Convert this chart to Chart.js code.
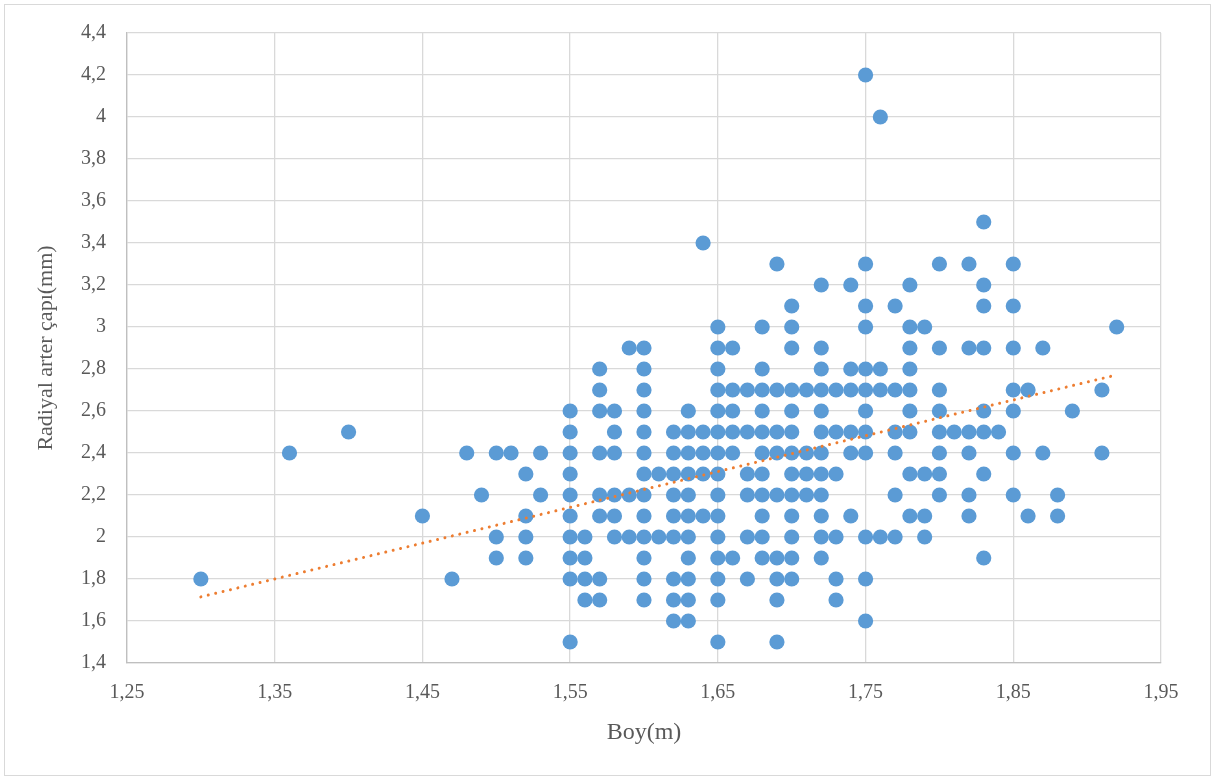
<!DOCTYPE html>
<html>
<head>
<meta charset="utf-8">
<title>Boy - Radiyal arter çapı</title>
<script src="https://cdn.jsdelivr.net/npm/chart.js@4.4.1/dist/chart.umd.min.js"></script>
<style>
  html, body { margin: 0; padding: 0; background: #ffffff; }
  #wrap { width: 1215px; height: 780px; position: relative; }
</style>
</head>
<body>
<div id="wrap"><canvas id="c" width="1215" height="780"></canvas></div>
<script>
// Heights (m) and, for each height, the measured radial artery diameters (mm)
const boy = [1.30, 1.36, 1.40, 1.45, 1.47, 1.48, 1.49, 1.50, 1.51, 1.52, 1.53,
  1.55, 1.56, 1.57, 1.58, 1.59, 1.60, 1.61, 1.62, 1.63, 1.64,
  1.65, 1.66, 1.67, 1.68, 1.69, 1.70, 1.71, 1.72, 1.73, 1.74,
  1.75, 1.76, 1.77, 1.78, 1.79, 1.80, 1.81, 1.82, 1.83, 1.84,
  1.85, 1.86, 1.87, 1.88, 1.89, 1.91, 1.92];
const cap = [
  [1.8], [2.4], [2.5], [2.1], [1.8], [2.4], [2.2], [2.4, 2.0, 1.9], [2.4], [2.3, 2.1, 2.0, 1.9], [2.4, 2.2],
  [2.6, 2.5, 2.4, 2.3, 2.2, 2.1, 2.0, 1.9, 1.8, 1.5],
  [2.0, 1.9, 1.8, 1.7],
  [2.8, 2.7, 2.6, 2.4, 2.2, 2.1, 1.8, 1.7],
  [2.6, 2.5, 2.4, 2.2, 2.1, 2.0],
  [2.9, 2.2, 2.0],
  [2.9, 2.8, 2.7, 2.6, 2.5, 2.4, 2.3, 2.2, 2.1, 2.0, 1.9, 1.8, 1.7],
  [2.3, 2.0],
  [2.5, 2.4, 2.3, 2.2, 2.1, 2.0, 1.8, 1.7, 1.6],
  [2.6, 2.5, 2.4, 2.3, 2.2, 2.1, 2.0, 1.9, 1.8, 1.7, 1.6],
  [3.4, 2.5, 2.4, 2.3, 2.1],
  [3.0, 2.9, 2.8, 2.7, 2.6, 2.5, 2.4, 2.3, 2.2, 2.1, 2.0, 1.9, 1.8, 1.7, 1.5],
  [2.9, 2.7, 2.6, 2.5, 2.4, 1.9],
  [2.7, 2.5, 2.3, 2.2, 2.0, 1.8],
  [3.0, 2.8, 2.7, 2.6, 2.5, 2.4, 2.3, 2.2, 2.1, 2.0, 1.9],
  [3.3, 2.7, 2.5, 2.4, 2.2, 1.9, 1.8, 1.7, 1.5],
  [3.1, 3.0, 2.9, 2.7, 2.6, 2.5, 2.4, 2.3, 2.2, 2.1, 2.0, 1.9, 1.8],
  [2.7, 2.4, 2.3, 2.2],
  [3.2, 2.9, 2.8, 2.7, 2.6, 2.5, 2.4, 2.3, 2.2, 2.1, 2.0, 1.9],
  [2.7, 2.5, 2.3, 2.0, 1.8, 1.7],
  [3.2, 2.8, 2.7, 2.5, 2.4, 2.1],
  [4.2, 3.3, 3.1, 3.0, 2.8, 2.7, 2.6, 2.5, 2.4, 2.0, 1.8, 1.6],
  [4.0, 2.8, 2.7, 2.0],
  [3.1, 2.7, 2.5, 2.4, 2.2, 2.0],
  [3.2, 3.0, 2.9, 2.8, 2.7, 2.6, 2.5, 2.3, 2.1],
  [3.0, 2.3, 2.1, 2.0],
  [3.3, 2.9, 2.7, 2.6, 2.5, 2.4, 2.3, 2.2],
  [2.5],
  [3.3, 2.9, 2.5, 2.4, 2.2, 2.1],
  [3.5, 3.2, 3.1, 2.9, 2.6, 2.5, 2.3, 1.9],
  [2.5],
  [3.3, 3.1, 2.9, 2.7, 2.6, 2.4, 2.2],
  [2.7, 2.1],
  [2.9, 2.4],
  [2.2, 2.1],
  [2.6],
  [2.7, 2.4],
  [3.0]
];

// Linear trend line end values (height m -> diameter mm)
const trendBoy = [1.30, 1.92];
const trendCap = [1.715, 2.772];

// Axis tick values
const xTicks = [1.25, 1.35, 1.45, 1.55, 1.65, 1.75, 1.85, 1.95];
const yTicks = [1.4, 1.6, 1.8, 2.0, 2.2, 2.4, 2.6, 2.8, 3.0, 3.2, 3.4, 3.6, 3.8, 4.0, 4.2, 4.4];

const xTitle = 'Boy(m)';
const yTitle = 'Radiyal arter çapı(mm)';

// Flatten into scatter points
const points = [];
boy.forEach((b, i) => cap[i].forEach(d => points.push({ x: b, y: d })));
const trend = trendBoy.map((b, i) => ({ x: b, y: trendCap[i] }));

const fmt = v => String(Number(v.toFixed(2))).replace('.', ',');

const frame = {
  id: 'frame',
  beforeDraw(chart) {
    const ctx = chart.ctx;
    ctx.save();
    ctx.fillStyle = '#ffffff';
    ctx.fillRect(0, 0, chart.width, chart.height);
    ctx.strokeStyle = '#d9d9d9';
    ctx.lineWidth = 1;
    ctx.strokeRect(4.5, 4.5, chart.width - 9, chart.height - 9);
    ctx.restore();
  }
};

const textColor = '#595959';
const serif = '"Liberation Serif", "Times New Roman", serif';

new Chart(document.getElementById('c'), {
  type: 'scatter',
  data: {
    datasets: [
      {
        type: 'line',
        label: 'Trend',
        data: trend,
        order: 0,
        borderColor: '#ED7D31',
        borderWidth: 3,
        borderDash: [0.01, 7.6],
        borderCapStyle: 'round',
        pointRadius: 0,
        fill: false,
        tension: 0
      },
      {
        label: 'Radiyal arter çapı',
        data: points,
        order: 1,
        backgroundColor: '#5B9BD5',
        borderColor: '#5B9BD5',
        borderWidth: 0,
        pointRadius: 7.6,
        pointHoverRadius: 7.6
      }
    ]
  },
  options: {
    responsive: false,
    animation: false,
    layout: { padding: { top: 31, right: 54, left: 0, bottom: 0 } },
    plugins: {
      legend: { display: false },
      tooltip: { enabled: false }
    },
    scales: {
      x: {
        type: 'linear',
        min: 1.25,
        max: 1.95,
        afterBuildTicks: s => { s.ticks = xTicks.map(v => ({ value: v })); },
        afterFit: s => { s.height = 117; },
        grid: { color: '#d9d9d9', lineWidth: 1.3, drawTicks: false },
        border: { color: '#bfbfbf', width: 1.3 },
        ticks: {
          padding: 18,
          color: textColor,
          font: { family: serif, size: 20 },
          maxRotation: 0,
          callback: v => fmt(v)
        },
        title: {
          display: true,
          text: xTitle,
          color: textColor,
          font: { family: serif, size: 24 },
          padding: { top: 0, bottom: 33 }
        }
      },
      y: {
        type: 'linear',
        min: 1.4,
        max: 4.4,
        afterBuildTicks: s => { s.ticks = yTicks.map(v => ({ value: v })); },
        afterFit: s => { s.width = 127; },
        grid: { color: '#d9d9d9', lineWidth: 1.3, drawTicks: false },
        border: { color: '#bfbfbf', width: 1.3 },
        ticks: {
          padding: 21,
          color: textColor,
          font: { family: serif, size: 20 },
          callback: v => fmt(v)
        },
        title: {
          display: true,
          text: yTitle,
          color: textColor,
          font: { family: serif, size: 22 },
          padding: { top: 33, bottom: 0 }
        }
      }
    }
  },
  plugins: [frame]
});
</script>
</body>
</html>
